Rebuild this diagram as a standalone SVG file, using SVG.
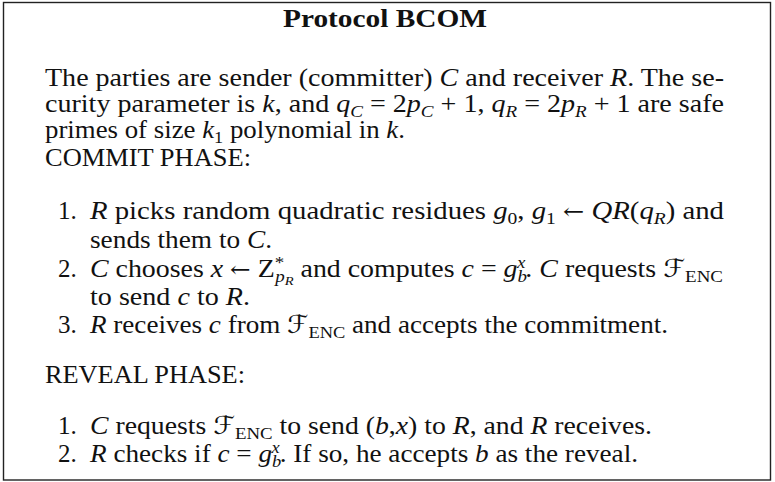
<svg xmlns="http://www.w3.org/2000/svg" width="775" height="482" viewBox="0 0 775 482">
<style>
text{font-family:"Liberation Serif","DejaVu Serif",serif;font-size:25px;fill:#111}
.i{font-style:italic}
.s{font-size:17px}
.ss{font-size:13px}
.ar{font-family:"DejaVu Serif","DejaVu Sans",serif;font-size:22px}
.cal{font-family:"DejaVu Serif","DejaVu Sans",serif;font-style:italic}
.t{font-weight:bold;font-size:25px}
</style>
<rect x="3.5" y="2.5" width="767" height="477.5" fill="#fff" stroke="#222" stroke-width="1.4"/>
<g id="title">
<text class="t" x="283" y="27" textLength="204" lengthAdjust="spacingAndGlyphs">Protocol BCOM</text>
</g>
<g id="intro">
<text x="45" y="86" textLength="679" lengthAdjust="spacingAndGlyphs">The parties are sender (committer) <tspan class="i">C</tspan> and receiver <tspan class="i">R</tspan>. The se-</text>
<text x="45" y="112" textLength="679" lengthAdjust="spacingAndGlyphs">curity parameter is <tspan class="i">k</tspan>, and <tspan class="i">q</tspan><tspan class="i s" dy="5">C</tspan><tspan dy="-5"> = 2</tspan><tspan class="i">p</tspan><tspan class="i s" dy="5">C</tspan><tspan dy="-5"> + 1, </tspan><tspan class="i">q</tspan><tspan class="i s" dy="5">R</tspan><tspan dy="-5"> = 2</tspan><tspan class="i">p</tspan><tspan class="i s" dy="5">R</tspan><tspan dy="-5"> + 1 are safe</tspan></text>
<text x="45" y="138" textLength="360" lengthAdjust="spacingAndGlyphs">primes of size <tspan class="i">k</tspan><tspan class="s" dy="5">1</tspan><tspan dy="-5"> polynomial in </tspan><tspan class="i">k</tspan>.</text>
</g>
<g id="commit-phase">
<text x="45" y="166" textLength="206" lengthAdjust="spacingAndGlyphs">COMMIT PHASE:</text>
<text x="58" y="219">1.</text>
<text x="90" y="219" textLength="634" lengthAdjust="spacingAndGlyphs"><tspan class="i">R</tspan> picks random quadratic residues <tspan class="i">g</tspan><tspan class="s" dy="5">0</tspan><tspan dy="-5">, </tspan><tspan class="i">g</tspan><tspan class="s" dy="5">1</tspan><tspan dy="-5"> </tspan><tspan class="ar">←</tspan> <tspan class="i">QR</tspan>(<tspan class="i">q</tspan><tspan class="i s" dy="5">R</tspan><tspan dy="-5">) and</tspan></text>
<text x="90" y="248" textLength="182" lengthAdjust="spacingAndGlyphs">sends them to <tspan class="i">C</tspan>.</text>
<text x="58" y="277">2.</text>
<text x="90" y="277" textLength="633" lengthAdjust="spacingAndGlyphs"><tspan class="i">C</tspan> chooses <tspan class="i">x</tspan> <tspan class="ar">←</tspan> Z<tspan class="s" dy="-9">*</tspan><tspan class="i s" dx="-8" dy="14">p</tspan><tspan class="i ss" dy="3">R</tspan><tspan dy="-8"> and computes </tspan><tspan class="i">c</tspan> = <tspan class="i">g</tspan><tspan class="i s" dy="5">b</tspan><tspan class="i s" dx="-9" dy="-14">x</tspan><tspan dy="9">. </tspan><tspan class="i">C</tspan> requests <tspan class="cal">ℱ</tspan><tspan class="s" dy="5">ENC</tspan></text>
<text x="90" y="305" textLength="160" lengthAdjust="spacingAndGlyphs">to send <tspan class="i">c</tspan> to <tspan class="i">R</tspan>.</text>
<text x="58" y="333">3.</text>
<text x="90" y="333" textLength="578" lengthAdjust="spacingAndGlyphs"><tspan class="i">R</tspan> receives <tspan class="i">c</tspan> from <tspan class="cal">ℱ</tspan><tspan class="s" dy="5">ENC</tspan><tspan dy="-5"> and accepts the commitment.</tspan></text>
</g>
<g id="reveal-phase">
<text x="45" y="383" textLength="200" lengthAdjust="spacingAndGlyphs">REVEAL PHASE:</text>
<text x="58" y="434">1.</text>
<text x="90" y="434" textLength="562" lengthAdjust="spacingAndGlyphs"><tspan class="i">C</tspan> requests <tspan class="cal">ℱ</tspan><tspan class="s" dy="5">ENC</tspan><tspan dy="-5"> to send (</tspan><tspan class="i">b</tspan>,<tspan class="i">x</tspan>) to <tspan class="i">R</tspan>, and <tspan class="i">R</tspan> receives.</text>
<text x="58" y="462">2.</text>
<text x="90" y="462" textLength="548" lengthAdjust="spacingAndGlyphs"><tspan class="i">R</tspan> checks if <tspan class="i">c</tspan> = <tspan class="i">g</tspan><tspan class="i s" dy="5">b</tspan><tspan class="i s" dx="-9" dy="-14">x</tspan><tspan dy="9">. If so, he accepts </tspan><tspan class="i">b</tspan> as the reveal.</text>
</g>
</svg>
